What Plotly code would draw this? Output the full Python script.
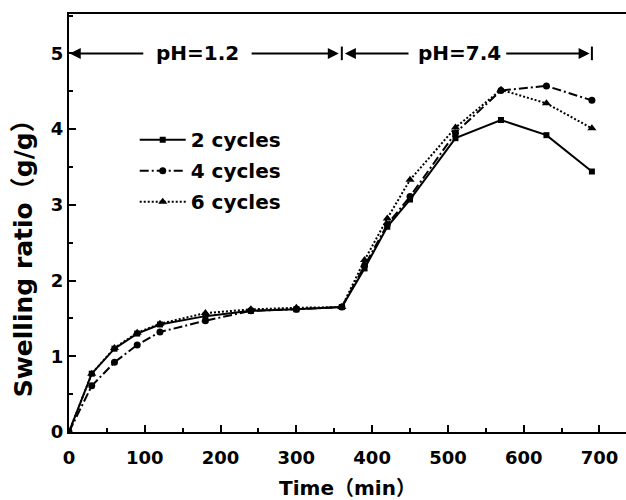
import plotly.graph_objects as go

time = [0, 30, 60, 90, 120, 180, 240, 300, 360, 390, 420, 450, 510, 570, 630, 690]
cyc2 = [0, 0.77, 1.10, 1.30, 1.42, 1.53, 1.60, 1.62, 1.65, 2.16, 2.71, 3.07, 3.88, 4.12, 3.92, 3.44]
cyc4 = [0, 0.61, 0.92, 1.15, 1.32, 1.47, 1.60, 1.62, 1.65, 2.20, 2.74, 3.11, 3.95, 4.51, 4.57, 4.38]
cyc6 = [0, 0.77, 1.11, 1.31, 1.43, 1.57, 1.62, 1.64, 1.65, 2.27, 2.82, 3.33, 4.02, 4.52, 4.34, 4.01]
series_names = ["2 cycles", "4 cycles", "6 cycles"]
x_ticks = [0, 100, 200, 300, 400, 500, 600, 700]
y_ticks = [0, 1, 2, 3, 4, 5]

FONT = "DejaVu Sans, Noto Sans CJK SC"

fig = go.Figure()
styles = [
    dict(dash="solid", symbol="square", size=6),
    dict(dash="9px,3px,2px,3px", symbol="circle", size=7),
    dict(dash="2px,2px", symbol="triangle-up", size=8),
]
for i, (name, ys, st) in enumerate(zip(series_names, [cyc2, cyc4, cyc6], styles)):
    fig.add_trace(go.Scatter(
        x=time, y=ys, name=f"<b>{name}</b>", mode="lines+markers",
        legendgroup=f"g{i}",
        line=dict(color="black", width=2, dash=st["dash"]),
        marker=dict(color="black", symbol=st["symbol"], size=st["size"]),
    ))

ann = []
def arrow(xh, xt, y=5):
    ann.append(dict(x=xh, y=y, ax=xt, ay=y, xref="x", yref="y", axref="x", ayref="y",
                    text="", showarrow=True, arrowhead=2, arrowsize=1.1, arrowwidth=2,
                    arrowcolor="black"))

arrow(1, 100)
arrow(356, 239)
arrow(364, 450)
arrow(687, 575)
ann.append(dict(x=169, y=5, xref="x", yref="y", text="<b>pH=1.2</b>", showarrow=False,
                font=dict(family=FONT, size=20, color="black")))
ann.append(dict(x=515, y=5, xref="x", yref="y", text="<b>pH=7.4</b>", showarrow=False,
                font=dict(family=FONT, size=20, color="black")))
# y-axis title (placed slightly below plot centre, as in the reference)
ann.append(dict(x=0, y=0.43, xref="paper", yref="paper", xshift=-46,
                xanchor="center", yanchor="middle", textangle=-90, showarrow=False,
                text="<b>Swelling ratio（g/g）</b>",
                font=dict(family=FONT, size=25, color="black")))

shapes = []
for xb in [360, 690]:
    shapes.append(dict(type="line", xref="x", yref="y", x0=xb, x1=xb, y0=4.91, y1=5.09,
                       line=dict(color="black", width=2)))

fig.update_layout(
    width=626, height=500,
    margin=dict(l=69, r=0, t=14, b=67.5, autoexpand=False),
    paper_bgcolor="white", plot_bgcolor="white",
    font=dict(family=FONT, size=18, color="black"),
    showlegend=True,
    legend=dict(x=0.118, y=0.746, xanchor="left", yanchor="top",
                font=dict(family=FONT, size=20, color="black"),
                bgcolor="rgba(0,0,0,0)", itemwidth=46, tracegroupgap=2),
    annotations=ann, shapes=shapes,
    xaxis=dict(range=[0, 735], tickvals=x_ticks, ticktext=[f"<b>{v}</b>" for v in x_ticks],
               showgrid=False, zeroline=False, showline=True, linecolor="black", linewidth=2,
               mirror=True, ticks="inside", ticklen=7, tickwidth=1.5, tickcolor="black",
               minor=dict(dtick=50, ticks="inside", ticklen=4, tickwidth=1.5, tickcolor="black"),
               tickfont=dict(family=FONT, size=18), ticklabelstandoff=8,
               title=dict(text="<b>Time（min）</b>", font=dict(family=FONT, size=20), standoff=15)),
    yaxis=dict(range=[0, 5.52], tickvals=y_ticks, ticktext=[f"<b>{v}</b>" for v in y_ticks],
               showgrid=False, zeroline=False, showline=True, linecolor="black", linewidth=2,
               mirror=False, ticks="inside", ticklen=7, tickwidth=1.5, tickcolor="black",
               minor=dict(dtick=0.5, ticks="inside", ticklen=4, tickwidth=1.5, tickcolor="black"),
               tickfont=dict(family=FONT, size=18)),
)

fig.write_html("out.html", config={"displayModeBar": False},
               post_script="document.body.style.margin='0';")
